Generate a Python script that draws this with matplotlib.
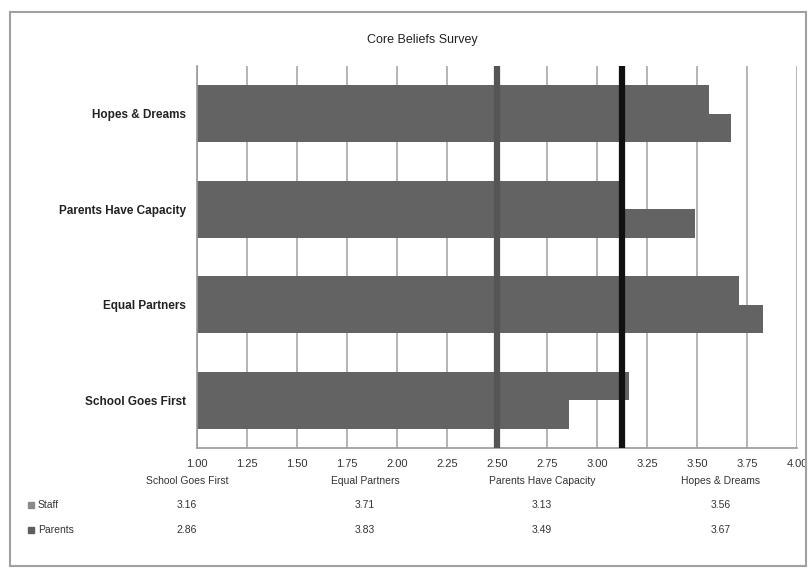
import matplotlib
matplotlib.use("Agg")
from matplotlib import pyplot as plt
from matplotlib.patches import Rectangle
import numpy as np

categories = ["School Goes First", "Equal Partners", "Parents Have Capacity", "Hopes & Dreams"]
staff = [3.16, 3.71, 3.13, 3.56]
parents = [2.86, 3.83, 3.49, 3.67]
series_names = ["Staff", "Parents"]
ref_lines = [2.50, 3.125]
ticks = np.arange(1.0, 4.01, 0.25)

plt.rcParams['font.family'] = ['Liberation Sans Narrow', 'Liberation Sans', 'DejaVu Sans']

fig = plt.figure(figsize=(8.12, 5.74), dpi=100)
ax = fig.add_axes([197/812, 1 - 448/574, 600/812, 382/574])

y = np.arange(len(categories))
h = 0.3
ax.barh(y + h/2, staff, height=h, left=0, color="#636363", zorder=2)
ax.barh(y - h/2, parents, height=h, left=0, color="#636363", zorder=2)

ax.axvline(ref_lines[0], color="#555555", lw=4.5, zorder=3)
ax.axvline(ref_lines[1], color="#111111", lw=4.5, zorder=3)

ax.set_xlim(1.0, 4.0)
ax.set_ylim(-0.5, 3.5)
ax.set_xticks(ticks)
ax.set_xticklabels(["%.2f" % t for t in ticks], fontsize=8, color="#333333")
ax.set_yticks(y)
ax.set_yticklabels(categories, fontsize=8.5, fontweight="bold", color="#222222")
ax.tick_params(length=0, pad=8)
ax.xaxis.grid(True, color="#a0a0a0", lw=1.1, zorder=0)
ax.set_axisbelow(True)
for s in ["top", "right"]:
    ax.spines[s].set_visible(False)
ax.spines["left"].set_color("#9a9a9a")
ax.spines["bottom"].set_color("#9a9a9a")
ax.spines["left"].set_linewidth(1.2)
ax.spines["bottom"].set_linewidth(1.2)

fig.text(422/812, 1 - 40/574, "Core Beliefs Survey", ha="center", va="center", fontsize=9, color="#222222")

# data table under the chart
col_x = [187, 365, 542, 721]
for cx, cat, s, p in zip(col_x, categories, staff, parents):
    fig.text(cx/812, 1 - 481/574, cat, ha="center", va="center", fontsize=7.5, color="#333333")
    fig.text(cx/812, 1 - 505/574, "%.2f" % s, ha="center", va="center", fontsize=7.5, color="#333333")
    fig.text(cx/812, 1 - 530/574, "%.2f" % p, ha="center", va="center", fontsize=7.5, color="#333333")

key_colors = ["#8a8a8a", "#5e5e5e"]
for name, kc, ry in zip(series_names, key_colors, [505, 530]):
    fig.patches.append(Rectangle((28/812, 1 - (ry + 3)/574), 6/812, 6/574,
                                 transform=fig.transFigure, color=kc))
    fig.text(38/812, 1 - ry/574, name, ha="left", va="center", fontsize=7.5, color="#333333")

fig.patches.append(Rectangle((10/812, 1 - 566/574), 796/812, 554/574, transform=fig.transFigure,
                             fill=False, edgecolor="#a0a0a0", lw=1.5))

fig.savefig("out.png", dpi=100)
